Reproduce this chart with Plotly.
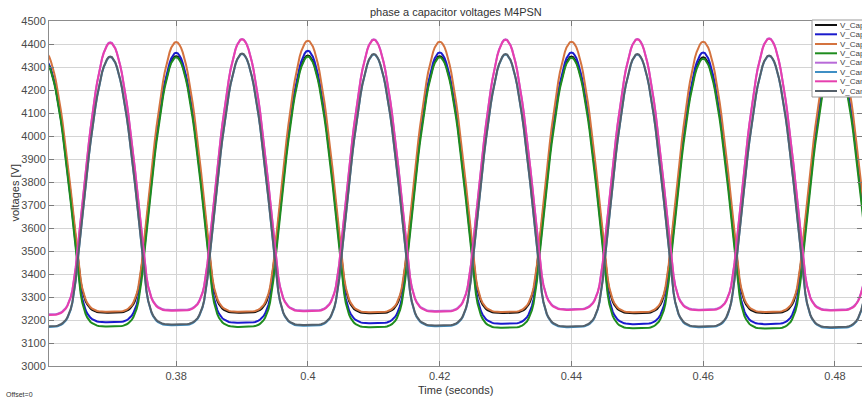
import plotly.graph_objects as go

# ---------------- data ----------------
T_START = 0.36          # first sample [s]
DT = 0.00025            # sample step [s]
N_SAMPLES = 501         # 0.36 .. 0.485 s
HALF = 40               # samples per half period (0.01 s)

# normalised one-half-period profile, from a peak (1) down to a trough (0)
SHAPE = [1.000, 0.998, 0.990, 0.979, 0.962, 0.942, 0.916, 0.887, 0.853, 0.816,
         0.775, 0.731, 0.683, 0.633, 0.581, 0.526, 0.469, 0.411, 0.352, 0.292,
         0.232, 0.172, 0.125, 0.090, 0.065, 0.047, 0.034, 0.024, 0.017, 0.012,
         0.008, 0.005, 0.003, 0.002, 0.001, 0.001, 0.0005, 0.0, 0.0, 0.0, 0.0]

names = ["V_Cap1a", "V_Cap2a", "V_Cap3a", "V_Cap4a",
         "V_Can1a", "V_Can2a", "V_Can3a", "V_Can4a"]
colors = ["#111111", "#1a1acc", "#d4733f", "#1e8c1e",
          "#b86ad8", "#3f8fc4", "#e63fae", "#55606a"]

# upper-arm capacitors: peaks at 0.36, 0.38 ... 0.48 s ; troughs at 0.37 ... 0.49 s
cap_peaks = {
    "V_Cap1a": [4328, 4347, 4350, 4347, 4345, 4342, 4342],
    "V_Cap2a": [4332, 4362, 4370, 4363, 4363, 4363, 4363],
    "V_Cap3a": [4367, 4408, 4414, 4410, 4410, 4410, 4410],
    "V_Cap4a": [4325, 4342, 4345, 4342, 4340, 4336, 4336],
}
cap_troughs = {
    "V_Cap1a": [3231, 3231, 3229, 3230, 3229, 3230, 3230],
    "V_Cap2a": [3190, 3188, 3186, 3184, 3182, 3182, 3182],
    "V_Cap3a": [3236, 3236, 3234, 3235, 3234, 3235, 3235],
    "V_Cap4a": [3172, 3170, 3168, 3166, 3164, 3163, 3163],
}
# lower-arm capacitors: peaks at 0.35, 0.37 ... 0.49 s ; troughs at 0.36 ... 0.48 s
can_peaks = {
    "V_Can1a": [4402, 4407, 4422, 4420, 4420, 4422, 4425, 4422],
    "V_Can2a": [4338, 4343, 4356, 4354, 4354, 4354, 4348, 4343],
    "V_Can3a": [4400, 4405, 4420, 4418, 4418, 4420, 4423, 4420],
    "V_Can4a": [4340, 4345, 4358, 4356, 4356, 4356, 4350, 4345],
}
can_troughs = {
    "V_Can1a": [3224, 3243, 3241, 3239, 3247, 3245, 3244],
    "V_Can2a": [3169, 3177, 3175, 3173, 3169, 3169, 3165],
    "V_Can3a": [3221, 3240, 3238, 3236, 3244, 3242, 3241],
    "V_Can4a": [3172, 3180, 3178, 3176, 3172, 3172, 3168],
}

x_ticks = [0.38, 0.40, 0.42, 0.44, 0.46, 0.48]
x_ticktext = ["0.38", "0.4", "0.42", "0.44", "0.46", "0.48"]
y_ticks = list(range(3000, 4501, 100))


# ---------------- build the sampled waveforms ----------------
def build(peaks, troughs, first_is_peak_at):
    """first_is_peak_at: sample index of the first peak (may be negative)."""
    ext = []
    for i in range(max(len(peaks), len(troughs))):
        if i < len(peaks):
            ext.append(peaks[i])
        if i < len(troughs):
            ext.append(troughs[i])
    ys = []
    for j in range(N_SAMPLES):
        rel = j - first_is_peak_at
        h = rel // HALF
        k = rel - h * HALF
        a, b = ext[h], ext[min(h + 1, len(ext) - 1)]
        if h % 2 == 0:          # peak -> trough
            p, t, kk = a, b, k
        else:                   # trough -> peak
            p, t, kk = b, a, HALF - k
        ys.append(t + (p - t) * SHAPE[kk])
    return ys


t_axis = [T_START + j * DT for j in range(N_SAMPLES)]
series = {}
for n in names[:4]:
    series[n] = build(cap_peaks[n], cap_troughs[n], 0)
for n in names[4:]:
    series[n] = build(can_peaks[n], can_troughs[n], -HALF)

fig = go.Figure()
for n, c in zip(names, colors):
    fig.add_trace(go.Scatter(x=t_axis, y=series[n], mode="lines", name=n,
                             line=dict(color=c, width=2), showlegend=False))

# ---------------- layout ----------------
W, H = 862, 402
L, R, T, B = 49, 0, 21, 36
PW, PH = W - L - R, H - T - B


def px(xp):
    return (xp - L) / PW


def py(yp):
    return (H - B - yp) / PH


FONT = "Liberation Sans, Arial, sans-serif"
axis_common = dict(showgrid=True, gridcolor="#d4d4d4", gridwidth=1,
                   showline=True, linecolor="#8c8c8c", linewidth=1,
                   mirror="ticks", ticks="inside", ticklen=5,
                   tickcolor="#7a7a7a", zeroline=False,
                   tickfont=dict(family=FONT, size=11, color="#4a4a4a"))

fig.update_layout(
    width=W, height=H, autosize=False,
    margin=dict(l=L, r=R, t=T, b=B, pad=0),
    paper_bgcolor="white", plot_bgcolor="white",
    font=dict(family=FONT),
    xaxis=dict(range=[0.3607, 0.4841], tickvals=x_ticks, ticktext=x_ticktext,
               **axis_common),
    yaxis=dict(range=[3000, 4500], tickvals=y_ticks,
               ticktext=[str(v) for v in y_ticks], **axis_common),
)

ann = [
    dict(text="phase a capacitor voltages M4PSN", x=0.5, y=py(12),
         font=dict(size=11, color="#333333")),
    dict(text="Time (seconds)", x=0.5, y=py(390),
         font=dict(size=11, color="#333333")),
    dict(text="voltages [V]", x=px(14), y=0.5, textangle=-90,
         font=dict(size=11, color="#333333")),
    dict(text="Offset=0", x=px(4), y=py(394), xanchor="left",
         font=dict(size=7, color="#333333")),
]

shapes = [dict(type="rect", xref="paper", yref="paper",
               x0=px(812), x1=px(900), y0=py(97), y1=py(20),
               fillcolor="white", line=dict(color="#9a9a9a", width=1),
               layer="above")]
row_y = [25, 34.3, 44, 53.3, 62.7, 72, 81.3, 91]
for n, c, ry in zip(names, colors, row_y):
    shapes.append(dict(type="line", xref="paper", yref="paper",
                       x0=px(815), x1=px(837), y0=py(ry), y1=py(ry),
                       line=dict(color=c, width=2), layer="above"))
    ann.append(dict(text=n, x=px(838), y=py(ry), xanchor="left",
                    font=dict(size=8, color="#444444")))

for a in ann:
    a.setdefault("xref", "paper")
    a.setdefault("yref", "paper")
    a.setdefault("showarrow", False)
    a.setdefault("yanchor", "middle")
    a.setdefault("xanchor", "center")

fig.update_layout(annotations=ann, shapes=shapes)
fig.write_html("out.html",
               config={"displayModeBar": False},
               post_script="document.body.style.margin='0';"
                           "document.body.style.overflow='hidden';")
